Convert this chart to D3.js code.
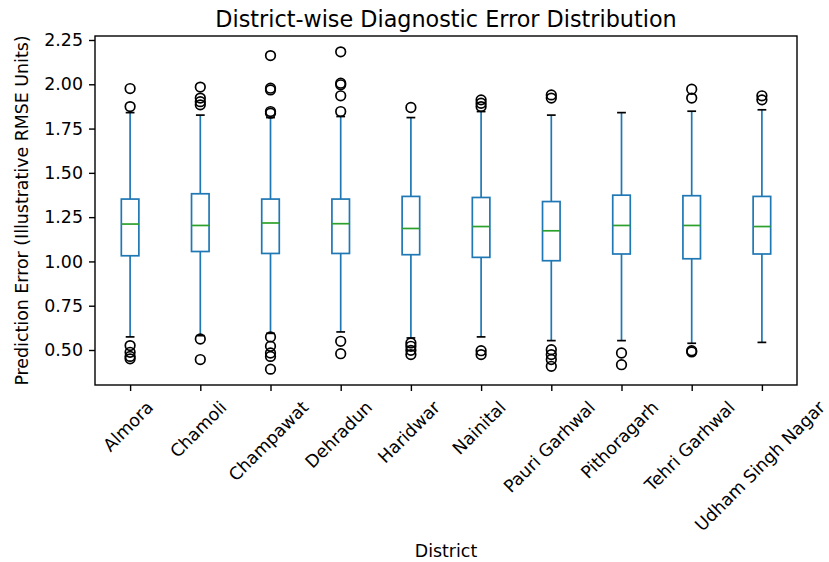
<!DOCTYPE html>
<html>
<head>
<meta charset="utf-8">
<script src="https://cdn.jsdelivr.net/npm/d3@7"></script>
<style>
  body { margin: 0; background: #fff; }
  text { font-family: "DejaVu Sans", sans-serif; fill: #000; }
</style>
</head>
<body>
<svg width="829" height="562"></svg>
<script>
const districts = ['Almora', 'Chamoli', 'Champawat', 'Dehradun', 'Haridwar', 'Nainital',
  'Pauri Garhwal', 'Pithoragarh', 'Tehri Garhwal', 'Udham Singh Nagar'];
const q1 = [1.032, 1.056, 1.045, 1.045, 1.038, 1.023, 1.004, 1.042, 1.015, 1.042];
const medians = [1.211, 1.203, 1.217, 1.213, 1.186, 1.197, 1.173, 1.203, 1.203, 1.197];
const q3 = [1.352, 1.382, 1.352, 1.352, 1.367, 1.361, 1.338, 1.374, 1.371, 1.367];
const whiskerLow = [0.574, 0.581, 0.594, 0.602, 0.568, 0.574, 0.553, 0.553, 0.538, 0.543];
const whiskerHigh = [1.840, 1.826, 1.812, 1.818, 1.812, 1.846, 1.826, 1.840, 1.848, 1.856];
const outliers = [
  [1.976, 1.874, 0.525, 0.487, 0.464, 0.450],
  [1.984, 1.922, 1.902, 1.884, 0.562, 0.446],
  [2.162, 1.978, 1.968, 1.846, 1.837, 0.574, 0.521, 0.483, 0.464, 0.392],
  [2.183, 2.006, 1.997, 1.935, 1.846, 0.549, 0.479],
  [1.869, 0.540, 0.521, 0.498, 0.474],
  [1.912, 1.893, 1.874, 0.496, 0.474],
  [1.940, 1.922, 0.502, 0.474, 0.446, 0.408],
  [0.483, 0.417],
  [1.972, 1.922, 0.496, 0.489],
  [1.935, 1.912]
];
const yTicks = [0.5, 0.75, 1.0, 1.25, 1.5, 1.75, 2.0, 2.25];

const svg = d3.select('svg');
const margin = { top: 36, right: 32, bottom: 177, left: 95 };
const width = +svg.attr('width') - margin.left - margin.right;
const height = +svg.attr('height') - margin.top - margin.bottom;
const g = svg.append('g').attr('transform', `translate(${margin.left},${margin.top})`);

const blue = '#1f77b4';
const green = '#2ca02c';
const lw = 1.7;
const fs = 17.4;
const tickLen = 6;

// matplotlib-like autoscale with 5% padding
const allVals = outliers.flat().concat(whiskerLow, whiskerHigh);
const lo = d3.min(allVals), hi = d3.max(allVals);
const pad = (hi - lo) * 0.05;
const y = d3.scaleLinear().domain([lo - pad, hi + pad]).range([height, 0]);
const x = d3.scaleLinear().domain([0.5, districts.length + 0.5]).range([0, width]);
const boxW = x(1.25) - x(1);   // width 0.5
const capW = boxW / 2;

const boxes = g.selectAll('.box')
  .data(districts)
  .enter()
  .append('g')
  .attr('class', 'box');

// whiskers
boxes.append('line')
  .attr('x1', (d, i) => x(i + 1)).attr('x2', (d, i) => x(i + 1))
  .attr('y1', (d, i) => y(q3[i])).attr('y2', (d, i) => y(whiskerHigh[i]))
  .attr('stroke', blue).attr('stroke-width', lw);
boxes.append('line')
  .attr('x1', (d, i) => x(i + 1)).attr('x2', (d, i) => x(i + 1))
  .attr('y1', (d, i) => y(q1[i])).attr('y2', (d, i) => y(whiskerLow[i]))
  .attr('stroke', blue).attr('stroke-width', lw);
// caps
[whiskerHigh, whiskerLow].forEach((arr) => {
  boxes.append('line')
    .attr('x1', (d, i) => x(i + 1) - capW / 2).attr('x2', (d, i) => x(i + 1) + capW / 2)
    .attr('y1', (d, i) => y(arr[i])).attr('y2', (d, i) => y(arr[i]))
    .attr('stroke', '#000').attr('stroke-width', lw);
});
// box
boxes.append('rect')
  .attr('x', (d, i) => x(i + 1) - boxW / 2)
  .attr('y', (d, i) => y(q3[i]))
  .attr('width', boxW)
  .attr('height', (d, i) => y(q1[i]) - y(q3[i]))
  .attr('fill', 'none').attr('stroke', blue).attr('stroke-width', lw);
// median
boxes.append('line')
  .attr('x1', (d, i) => x(i + 1) - boxW / 2).attr('x2', (d, i) => x(i + 1) + boxW / 2)
  .attr('y1', (d, i) => y(medians[i])).attr('y2', (d, i) => y(medians[i]))
  .attr('stroke', green).attr('stroke-width', lw);
// fliers
boxes.each(function (d, i) {
  d3.select(this).selectAll('circle')
    .data(outliers[i])
    .enter()
    .append('circle')
    .attr('cx', x(i + 1))
    .attr('cy', (v) => y(v))
    .attr('r', 4.8)
    .attr('fill', 'none')
    .attr('stroke', '#000')
    .attr('stroke-width', lw);
});

// frame
g.append('rect')
  .attr('width', width).attr('height', height)
  .attr('fill', 'none').attr('stroke', '#000').attr('stroke-width', 1.4);

// y axis
const yAxis = g.append('g')
  .call(d3.axisLeft(y).tickValues(yTicks).tickFormat(d3.format('.2f')).tickSize(tickLen).tickPadding(6));
yAxis.select('.domain').remove();
yAxis.selectAll('text').attr('font-size', fs + 'px').style('font-family', '"DejaVu Sans", sans-serif');
yAxis.selectAll('line').attr('stroke-width', 1.4);

// x axis
const xAxis = g.append('g')
  .attr('transform', `translate(0,${height})`)
  .call(d3.axisBottom(x).tickValues(d3.range(1, districts.length + 1)).tickSize(tickLen).tickFormat(''));
xAxis.select('.domain').remove();
xAxis.selectAll('line').attr('stroke-width', 1.4);

// rotated labels, bbox centered under tick (matplotlib rotation=45, ha=center)
const labelTop = height + tickLen + 6;
g.selectAll('.xlabel')
  .data(districts)
  .enter()
  .append('text')
  .attr('class', 'xlabel')
  .attr('font-size', fs + 'px')
  .attr('text-anchor', 'middle')
  .attr('dy', '0.35em')
  .text((d) => d)
  .each(function (d, i) {
    const L = this.getComputedTextLength();
    const h = fs * 1.17;
    const bh = (L + h) * Math.SQRT1_2;
    const cx = x(i + 1) - 2, cy = labelTop + bh / 2;
    d3.select(this).attr('transform', `translate(${cx},${cy}) rotate(-45)`);
  });

// title and axis labels
svg.append('text')
  .attr('x', margin.left + width / 2).attr('y', 27)
  .attr('text-anchor', 'middle').attr('font-size', '22.3px')
  .text('District-wise Diagnostic Error Distribution');
svg.append('text')
  .attr('x', margin.left + width / 2).attr('y', 557)
  .attr('text-anchor', 'middle').attr('font-size', fs + 'px')
  .text('District');
svg.append('text')
  .attr('transform', `translate(28,${margin.top + height / 2}) rotate(-90)`)
  .attr('text-anchor', 'middle').attr('font-size', fs + 'px')
  .text('Prediction Error (Illustrative RMSE Units)');
</script>
</body>
</html>
